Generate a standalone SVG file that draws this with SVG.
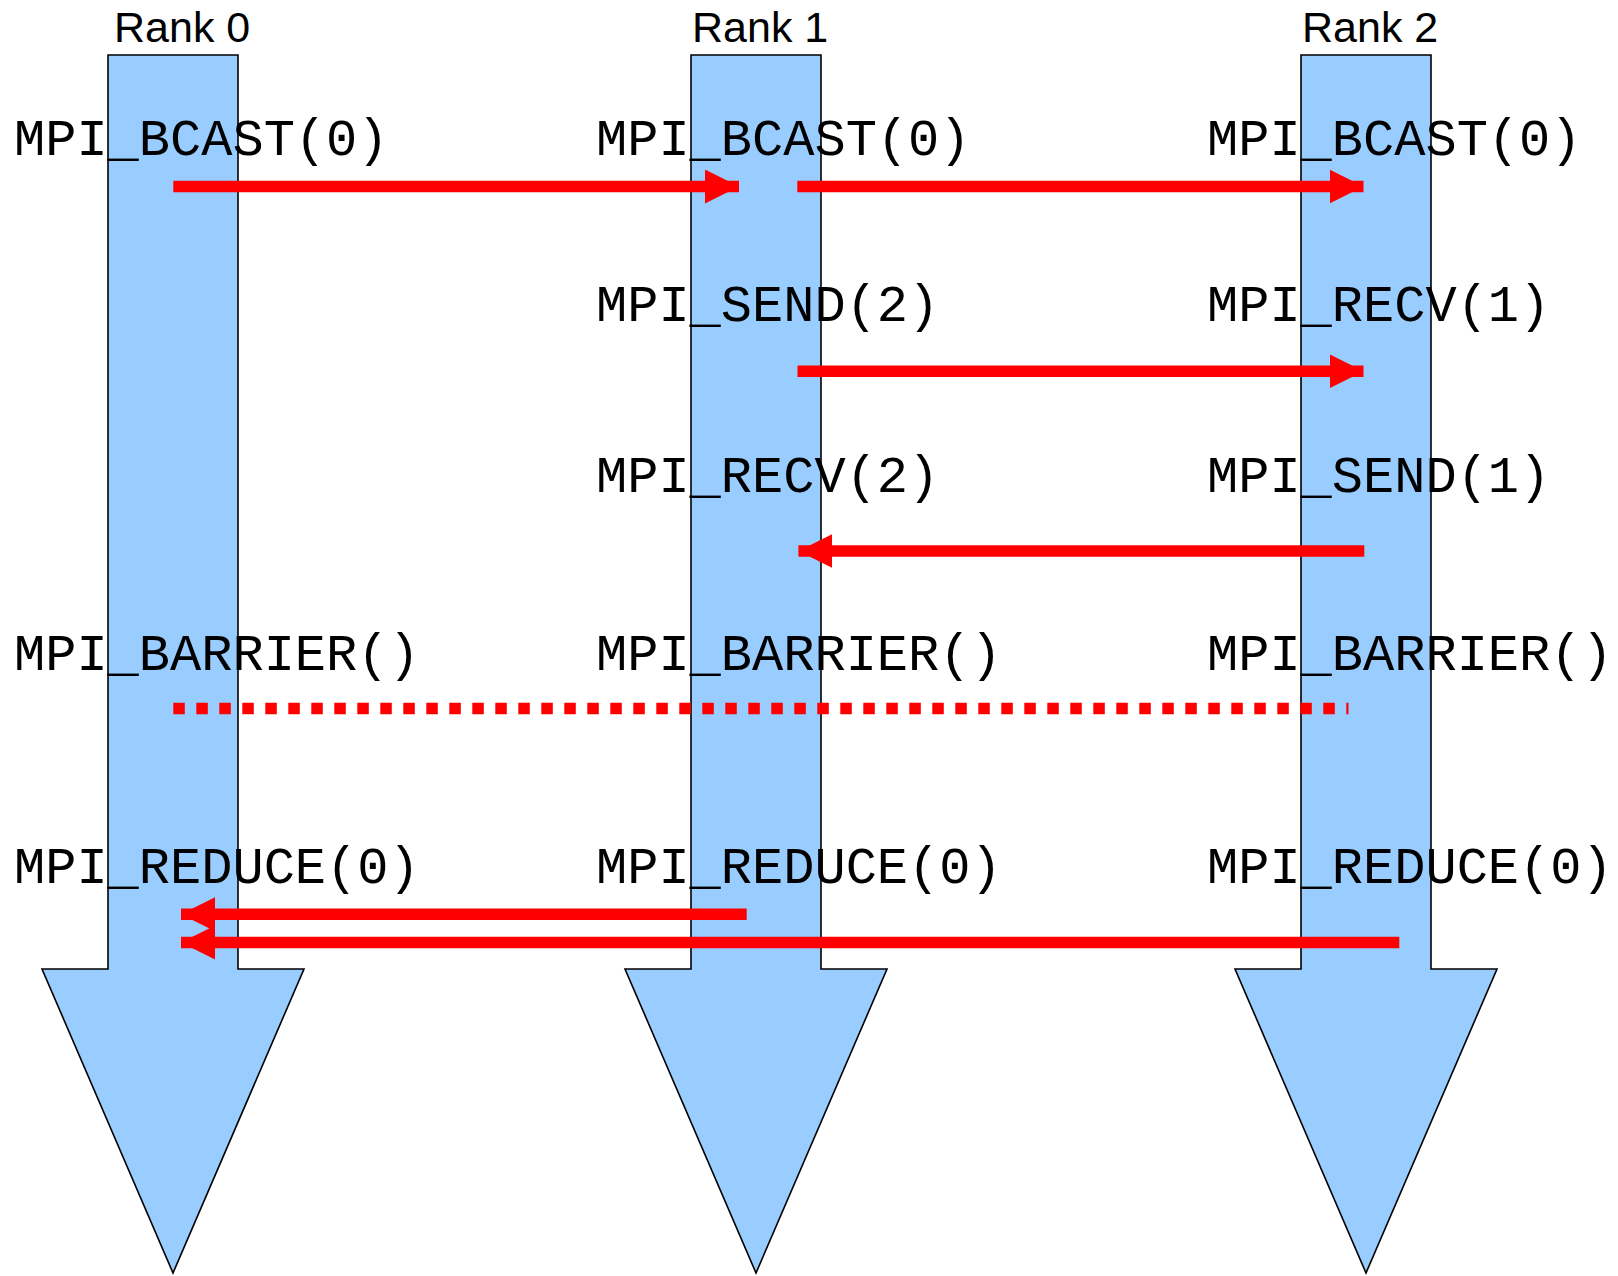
<svg xmlns="http://www.w3.org/2000/svg" width="1618" height="1276" viewBox="0 0 1618 1276">
<style>
.rank{fill:#99ccff;stroke:#000;stroke-width:1.6;stroke-linejoin:miter}
.title{font-family:"Liberation Sans",Arial,sans-serif;font-size:43px;fill:#000}
.call{font-family:"Liberation Mono","Courier New",monospace;font-size:52px;fill:#000}
.msg{stroke:#ff0000;stroke-width:11.5;fill:none}
.barrier{stroke:#ff0000;stroke-width:11.5;fill:none;stroke-dasharray:11.5 11.5}
</style>
<defs>
<marker id="head" markerUnits="userSpaceOnUse" markerWidth="34" markerHeight="34" refX="34" refY="17" orient="auto" viewBox="0 0 34 34">
<path d="M0,0 L34,17 L0,34 z" fill="#ff0000"/>
</marker>
</defs>
<rect width="1618" height="1276" fill="#ffffff"/>
<g id="rank0">
<polygon class="rank" points="108,55 238,55 238,969 304,969 173,1273 42,969 108,969"/>
<text class="title" x="114" y="42">Rank 0</text>
<text class="call" x="14" y="155">MPI_BCAST(0)</text>
<text class="call" x="14" y="670">MPI_BARRIER()</text>
<text class="call" x="14" y="883.3">MPI_REDUCE(0)</text>
</g>
<g id="rank1">
<polygon class="rank" points="691,55 821,55 821,969 887,969 756,1273 625,969 691,969"/>
<text class="title" x="692" y="42">Rank 1</text>
<text class="call" x="596" y="155">MPI_BCAST(0)</text>
<text class="call" x="596" y="320.7">MPI_SEND(2)</text>
<text class="call" x="596" y="491.7">MPI_RECV(2)</text>
<text class="call" x="596" y="670">MPI_BARRIER()</text>
<text class="call" x="596" y="883.3">MPI_REDUCE(0)</text>
</g>
<g id="rank2">
<polygon class="rank" points="1301,55 1431,55 1431,969 1497,969 1366,1273 1235,969 1301,969"/>
<text class="title" x="1302" y="42">Rank 2</text>
<text class="call" x="1207" y="155">MPI_BCAST(0)</text>
<text class="call" x="1207" y="320.7">MPI_RECV(1)</text>
<text class="call" x="1207" y="491.7">MPI_SEND(1)</text>
<text class="call" x="1207" y="670">MPI_BARRIER()</text>
<text class="call" x="1207" y="883.3">MPI_REDUCE(0)</text>
</g>
<g id="connectors">
<line class="msg" x1="173.3" y1="186.5" x2="739" y2="186.5" marker-end="url(#head)"/>
<line class="msg" x1="797.3" y1="186.5" x2="1363.5" y2="186.5" marker-end="url(#head)"/>
<line class="msg" x1="797.5" y1="371.3" x2="1363.5" y2="371.3" marker-end="url(#head)"/>
<line class="msg" x1="1364.3" y1="551" x2="798.4" y2="551" marker-end="url(#head)"/>
<line class="barrier" x1="173.3" y1="708.5" x2="1348.5" y2="708.5"/>
<line class="msg" x1="746.7" y1="914.3" x2="181" y2="914.3" marker-end="url(#head)"/>
<line class="msg" x1="1399.3" y1="942.5" x2="181" y2="942.5" marker-end="url(#head)"/>
</g>
</svg>
